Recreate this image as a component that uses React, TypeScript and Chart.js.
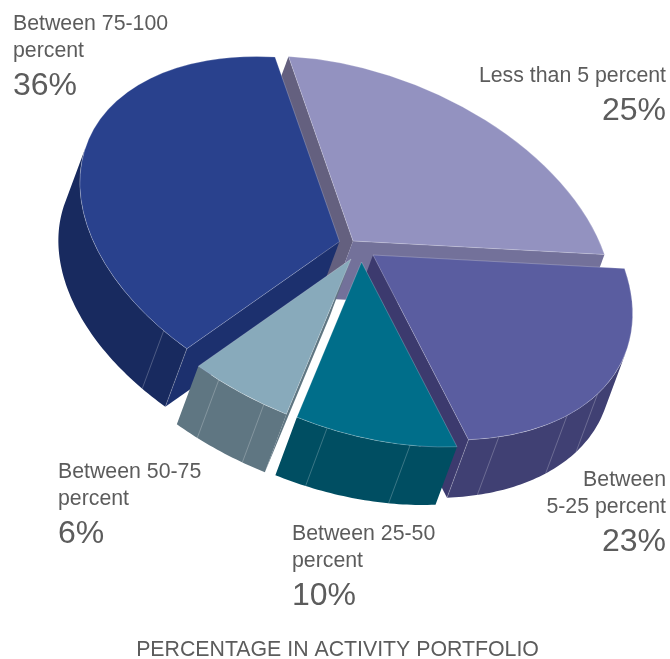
import React, { useEffect, useRef } from "react";
import { Chart, registerables } from "chart.js";

Chart.register(...registerables);

// ---- data ----
const categories = [
  "Less than 5 percent",
  "Between 5-25 percent",
  "Between 25-50 percent",
  "Between 50-75 percent",
  "Between 75-100 percent",
];
const shares = [25, 23, 10, 6, 36];
const labelLines = [
  ["Less than 5 percent"],
  ["Between", "5-25 percent"],
  ["Between 25-50", "percent"],
  ["Between 50-75", "percent"],
  ["Between 75-100", "percent"],
];
const shareLabels = ["25%", "23%", "10%", "6%", "36%"];
const axisTitle = "PERCENTAGE IN ACTIVITY PORTFOLIO";

// ---- styling ----
const topColors = ["#9392c0", "#5a5da0", "#006e8a", "#88aabb", "#29418d"];
const outerWallColors = ["#73719a", "#404073", "#004e62", "#5f7682", "#182a5f"];
const startWallColors = ["#64607f", "#3c3a6e", "#004e62", "#5f7682", "#1c306e"];
const endWallColors = ["#73719a", "#3c3a6e", "#004e62", "#6a6f78", "#1c306e"];
const paintOrder = [0, 4, 1, 3, 2];
// wall seam angles, degrees clockwise from the first slice's start
const seamAngles = [[], [134.5, 146, 165.4, 172.8], [183.6, 202], [214, 225], [230.4, 237]];

// projection of the pie's disc onto the page (pixels per unit radius)
const axisUp = { x: -64.5, y: -184.5 };
const axisRight = { x: 251.5, y: 13.5 };
const extrude = { x: -21.5, y: 58 };
// where each slice's tip lands after being pulled out of the pie
const sliceTips = [
  { x: 353, y: 241 },
  { x: 373, y: 255 },
  { x: 361.5, y: 262 },
  { x: 351, y: 259 },
  { x: 339.5, y: 241.5 },
];

const labelFont = "Liberation Sans, Arial, Helvetica, sans-serif";
const textColor = "#5c5c5c";
const labelPlacement = [
  { x: 666, y: 82, align: "right" },
  { x: 666, y: 486, align: "right" },
  { x: 292, y: 540, align: "left" },
  { x: 58, y: 478, align: "left" },
  { x: 13, y: 30, align: "left" },
];

type P = { x: number; y: number };

const pie3d = {
  id: "pie3d",
  beforeDatasetsDraw(chart: any) {
    const ctx: CanvasRenderingContext2D = chart.ctx;
    const arcs = chart.getDatasetMeta(0).data;
    for (const i of paintOrder) {
      const arc = arcs[i];
      const { startAngle, endAngle } = arc.getProps(["startAngle", "endAngle"], true);
      const tip = sliceTips[i];
      const project = (alpha: number): P => {
        const cx = Math.cos(alpha);
        const sy = Math.sin(alpha);
        return {
          x: tip.x + axisRight.x * cx - axisUp.x * sy,
          y: tip.y + axisRight.y * cx - axisUp.y * sy,
        };
      };
      const steps = Math.max(6, Math.ceil((endAngle - startAngle) * 60));
      const rim: P[] = [];
      for (let s = 0; s <= steps; s++) rim.push(project(startAngle + ((endAngle - startAngle) * s) / steps));

      const facing = (a: P, b: P) => (b.x - a.x) * extrude.y - (b.y - a.y) * extrude.x < 0;
      const fillRun = (pts: P[], color: string) => {
        ctx.beginPath();
        pts.forEach((p, k) => (k ? ctx.lineTo(p.x, p.y) : ctx.moveTo(p.x, p.y)));
        for (let k = pts.length - 1; k >= 0; k--) ctx.lineTo(pts[k].x + extrude.x, pts[k].y + extrude.y);
        ctx.closePath();
        ctx.fillStyle = color;
        ctx.fill();
      };

      // radial walls
      if (facing(tip, rim[0])) fillRun([tip, rim[0]], startWallColors[i]);
      if (facing(rim[steps], tip)) fillRun([rim[steps], tip], endWallColors[i]);
      // outer wall: contiguous front-facing runs
      let run: P[] = [];
      for (let s = 0; s < steps; s++) {
        if (facing(rim[s], rim[s + 1])) {
          if (!run.length) run.push(rim[s]);
          run.push(rim[s + 1]);
        } else if (run.length) {
          fillRun(run, outerWallColors[i]);
          run = [];
        }
      }
      if (run.length) fillRun(run, outerWallColors[i]);

      // seams on the wall
      ctx.save();
      ctx.strokeStyle = "rgba(255,255,255,0.33)";
      ctx.lineWidth = 0.7;
      for (const deg of seamAngles[i]) {
        const p = project(((deg - 90) * Math.PI) / 180);
        ctx.beginPath();
        ctx.moveTo(p.x, p.y);
        ctx.lineTo(p.x + extrude.x, p.y + extrude.y);
        ctx.stroke();
      }
      ctx.restore();

      // top face: the library's own arc, seen through the projection
      const r = arc.outerRadius;
      const m11 = axisRight.x / r;
      const m12 = axisRight.y / r;
      const m21 = -axisUp.x / r;
      const m22 = -axisUp.y / r;
      ctx.save();
      ctx.transform(m11, m12, m21, m22, tip.x - m11 * arc.x - m21 * arc.y, tip.y - m12 * arc.x - m22 * arc.y);
      arc.draw(ctx);
      ctx.restore();
    }
    return false;
  },
  afterDraw(chart: any) {
    const ctx: CanvasRenderingContext2D = chart.ctx;
    ctx.save();
    ctx.fillStyle = textColor;
    ctx.textBaseline = "alphabetic";
    labelLines.forEach((lines, i) => {
      const at = labelPlacement[i];
      ctx.textAlign = at.align as CanvasTextAlign;
      ctx.font = `21.3px ${labelFont}`;
      let y = at.y;
      lines.forEach((line, k) => {
        if (k) y += 26.5;
        ctx.fillText(line, at.x, y);
      });
      ctx.font = `32px ${labelFont}`;
      ctx.fillText(shareLabels[i], at.x, y + 38);
    });
    ctx.restore();
  },
};

export default function App() {
  const ref = useRef<HTMLCanvasElement>(null);
  useEffect(() => {
    const chart = new Chart(ref.current!, {
      type: "pie",
      data: {
        labels: categories,
        datasets: [
          {
            data: shares,
            backgroundColor: topColors,
            borderColor: "rgba(255,255,255,0.3)",
            borderWidth: 1,
          },
        ],
      },
      options: {
        responsive: false,
        animation: false,
        layout: { padding: { left: 5 } },
        plugins: {
          legend: { display: false },
          tooltip: { enabled: false },
          title: {
            display: true,
            position: "bottom",
            text: axisTitle,
            color: textColor,
            font: { family: labelFont, size: 21.3, weight: "normal", lineHeight: 1 },
            padding: { top: 0, bottom: -1.5 },
          },
        },
      },
      plugins: [pie3d],
    } as any);
    return () => chart.destroy();
  }, []);
  return (
    <div style={{ position: "absolute", left: 0, top: 0 }}>
      <canvas ref={ref} width={670} height={659} style={{ display: "block" }} />
    </div>
  );
}
